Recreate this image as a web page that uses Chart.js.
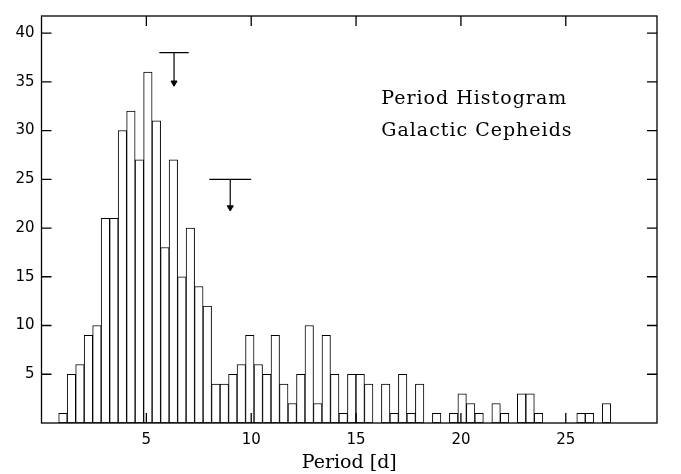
<!DOCTYPE html>
<html>
<head>
<meta charset="utf-8">
<title>Period Histogram</title>
<script src="https://cdn.jsdelivr.net/npm/chart.js@4.4.1/dist/chart.umd.min.js"></script>
<style>
  html, body { margin: 0; padding: 0; background: #fff; }
  #wrap { width: 681px; height: 474px; }
</style>
</head>
<body>
<div id="wrap"><canvas id="chart"></canvas></div>
<script>
// histogram bins, period in days
const binStart = 0.82;
const binWidth = 0.405;
const counts = [
  1, 5, 6, 9, 10, 21, 21, 30, 32, 27, 36, 31, 18, 27, 15, 20, 14, 12, 4, 4,
  5, 6, 9, 6, 5, 9, 4, 2, 5, 10, 2, 9, 5, 1, 5, 5, 4, 0, 4, 1,
  5, 1, 4, 0, 1, 0, 1, 3, 2, 1, 0, 2, 1, 0, 3, 3, 1, 0, 0, 0,
  0, 1, 1, 0, 2
];

const xTicks = [5, 10, 15, 20, 25];
const yTicks = [5, 10, 15, 20, 25, 30, 35, 40];

// the two "T" markers with down arrows
const markerPeriods = [6.32, 9.0];
const markerLevels = [38, 25];
const markerHalfWidths = [0.7, 1.0];
const markerTips = [34.5, 21.7];

const labelLines = ['Period Histogram', 'Galactic Cepheids'];
const labelAt = { x: 16.2, y: [33.2, 29.9] };

const binCenters = counts.map((c, i) => binStart + binWidth * (i + 0.5));
const barData = counts.map((c, i) => ({ x: binCenters[i], y: c }));

const markerSets = [];
markerPeriods.forEach((p, i) => {
  markerSets.push({
    type: 'line',
    data: [{ x: p - markerHalfWidths[i], y: markerLevels[i] }, { x: p + markerHalfWidths[i], y: markerLevels[i] }],
    borderColor: '#000', borderWidth: 1.2, pointRadius: 0, fill: false
  });
  markerSets.push({
    type: 'line',
    data: [{ x: p, y: markerLevels[i] }, { x: p, y: markerTips[i] + 0.3 }],
    borderColor: '#000', borderWidth: 1.2, pointRadius: 0, fill: false
  });
  markerSets.push({
    type: 'scatter',
    data: [{ x: p, y: markerTips[i] + 0.4 }],
    pointStyle: 'triangle', rotation: 180, pointRadius: 3.5,
    backgroundColor: '#000', borderColor: '#000', borderWidth: 1
  });
});

const framePlugin = {
  id: 'frame',
  afterDraw(chart) {
    const ctx = chart.ctx;
    const a = chart.chartArea;
    const xs = chart.scales.x;
    const ys = chart.scales.y;
    const len = 10;
    ctx.save();
    ctx.strokeStyle = '#000';
    ctx.lineWidth = 1.3;
    ctx.strokeRect(a.left, a.top, a.right - a.left, a.bottom - a.top);
    ctx.beginPath();
    xTicks.forEach(v => {
      const px = xs.getPixelForValue(v);
      ctx.moveTo(px, a.bottom); ctx.lineTo(px, a.bottom - len);
      ctx.moveTo(px, a.top); ctx.lineTo(px, a.top + len);
    });
    yTicks.forEach(v => {
      const py = ys.getPixelForValue(v);
      ctx.moveTo(a.left, py); ctx.lineTo(a.left + len, py);
      ctx.moveTo(a.right, py); ctx.lineTo(a.right - len, py);
    });
    ctx.stroke();

    ctx.fillStyle = '#000';
    ctx.font = '19px "DejaVu Serif"';
    ctx.letterSpacing = '1px';
    ctx.textBaseline = 'middle';
    ctx.textAlign = 'left';
    labelLines.forEach((t, i) => {
      ctx.fillText(t, xs.getPixelForValue(labelAt.x), ys.getPixelForValue(labelAt.y[i]));
    });
    ctx.restore();
  }
};

new Chart(document.getElementById('chart'), {
  type: 'bar',
  data: {
    datasets: [
      {
        data: barData,
        backgroundColor: '#fff',
        borderColor: '#000',
        borderWidth: 1,
        borderSkipped: false,
        barPercentage: 1,
        categoryPercentage: 1
      },
      ...markerSets
    ]
  },
  options: {
    responsive: true,
    maintainAspectRatio: false,
    animation: false,
    layout: { padding: { top: 7.5, right: 24, left: 0, bottom: 0 } },
    plugins: { legend: { display: false }, tooltip: { enabled: false } },
    scales: {
      x: {
        type: 'linear',
        min: 0,
        max: 29.35,
        offset: false,
        grid: { display: false, drawTicks: false },
        border: { display: false },
        ticks: {
          stepSize: 5,
          includeBounds: false,
          padding: 8,
          color: '#000',
          font: { family: 'DejaVu Sans', size: 15 },
          maxRotation: 0,
          callback: v => (v === 0 ? '' : v)
        },
        title: {
          display: true,
          text: 'Period [d]',
          color: '#000',
          font: { family: 'DejaVu Serif', size: 19 },
          padding: { top: 0, bottom: 0 }
        },
        afterFit: s => { s.height = 51; }
      },
      y: {
        min: 0,
        max: 41.75,
        grid: { display: false, drawTicks: false },
        border: { display: false },
        ticks: {
          stepSize: 5,
          includeBounds: false,
          padding: 7,
          color: '#000',
          font: { family: 'DejaVu Sans', size: 15 },
          callback: v => (v === 0 ? '' : v)
        },
        afterFit: s => { s.width = 41.5; }
      }
    }
  },
  plugins: [framePlugin]
});
</script>
</body>
</html>
